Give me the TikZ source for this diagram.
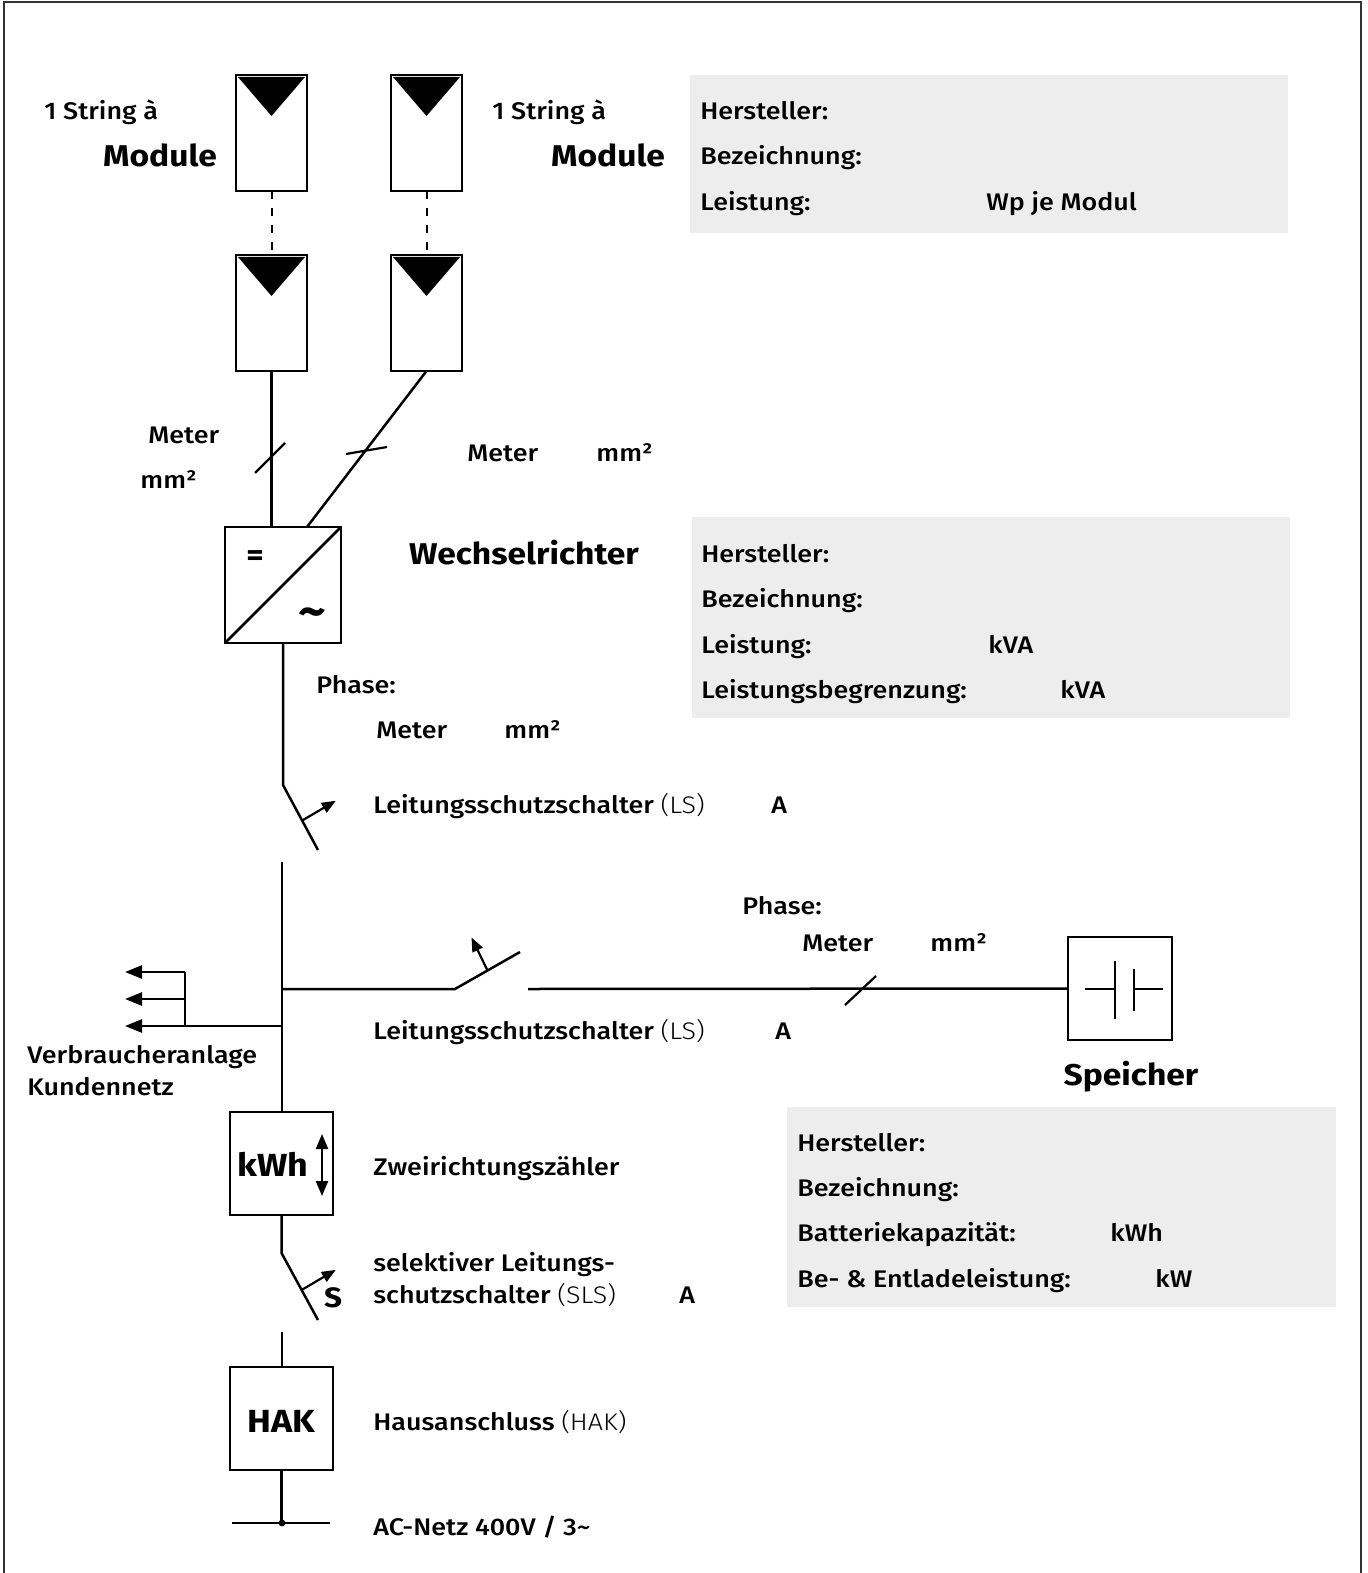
\documentclass[tikz,border=0pt]{standalone}
\usepackage{fontspec}
\IfFontExistsTF{Fira Sans Medium}{\setmainfont{Fira Sans Medium}[BoldFont={Fira Sans Bold}, FakeStretch=1.12]}{\setmainfont{Fira Sans}[FakeStretch=1.12]}
\IfFontExistsTF{Fira Sans Light}{\newfontfamily\lightfont{Fira Sans Light}[FakeStretch=1.12]}{\newfontfamily\lightfont{Fira Sans}[FakeStretch=1.12]}
\usetikzlibrary{arrows.meta,calc}
\tikzset{
  frame/.style={line width=1pt, black!80},
  wire/.style={line width=1.25pt},
  tickmark/.style={line width=1.1pt},
  dashline/.style={line width=1pt, dash pattern=on 4pt off 4.5pt},
  box/.style={draw, line width=1.4pt, inner sep=0pt, outer sep=0pt},
  panel/.style={box, minimum width=35.5pt, minimum height=58pt},
  info/.style={fill=black!7, draw=none, inner sep=0pt, outer sep=0pt, anchor=north west},
  lbl/.style={inner sep=0pt, anchor=base west, yshift=-0.75pt, font=\fontsize{12}{14}\selectfont},
  big/.style={inner sep=0pt, anchor=base, yshift=-0.75pt, font=\bfseries\fontsize{15}{18}\selectfont},
  swarrow/.style={line width=1.1pt, -{Triangle[length=7pt,width=5.5pt]}},
  consarrow/.style={wire, -{Triangle[length=8.5pt,width=6.5pt]}},
  dblarrow/.style={line width=1.1pt, {Triangle[length=7.5pt,width=6pt]}-{Triangle[length=7.5pt,width=6pt]}},
}
\begin{document}
\begin{tikzpicture}[x=0.5pt,y=-0.5pt]
\useasboundingbox (0,0) rectangle (1367,1573);
\draw[frame] (4,1573) -- (4,2) -- (1361,2) -- (1361,1573);

% info boxes
\node[info, minimum width=299pt, minimum height=79pt] (g1) at (690,75) {};
\node[info, minimum width=299pt, minimum height=100.5pt] (g2) at (692,517) {};
\node[info, minimum width=274.5pt, minimum height=100pt] (g3) at (787,1107) {};

% PV panels
\node[panel] (pa1) at (271.5,133) {};
\node[panel] (pa2) at (271.5,313) {};
\node[panel] (pb1) at (426.5,133) {};
\node[panel] (pb2) at (426.5,313) {};
\foreach \p in {pa1,pa2,pb1,pb2}{
  \fill ([shift={(2,2)}]\p.north west) -- ([shift={(-2,2)}]\p.north east) -- ([shift={(0,41)}]\p.north) -- cycle;
}
\draw[dashline] (pa1.south) -- (pa2.north);
\draw[dashline] (pb1.south) -- (pb2.north);

% inverter
\node[box, minimum size=58pt] (inv) at (283,585) {};
\draw[wire] (inv.south west) -- (inv.north east);
\node[inner sep=0pt, font=\bfseries\fontsize{15}{18}\selectfont] (eq) at (255,558) {=};
\node[inner sep=0pt, font=\bfseries\fontsize{24}{26}\selectfont] (ac) at (312,618) {\char`\~};

\draw[wire] (pa2.south) -- (pa2.south |- inv.north);
\draw[wire] (pb2.south) -- ([shift={(-34,0)}]inv.north east);
\draw[tickmark] (255,473) -- (285,443);
\draw[tickmark] (346,454) -- (387,447);

% LS 1
\coordinate (s1a) at (282,785);
\coordinate (s1b) at (318,850);
\draw[wire] (inv.south) -- (inv.south |- s1a) -- (s1b);
\draw[swarrow] ($(s1a)!0.55!(s1b)$) -- ++(34,-20);

% bus
\coordinate (bustop) at (282,862);
\node[box, minimum size=51.5pt] (kwh) at (281.5,1163.5) {};
\draw[wire] (bustop) -- (bustop |- kwh.north);
\coordinate (j1) at (282,989);
\coordinate (j2) at (282,1026);

% branch to storage
\coordinate (s2a) at (455,989);
\coordinate (s2b) at (520,952);
\coordinate (s2c) at (528,989);
\node[box, minimum width=52pt, minimum height=51.5pt] (sp) at (1120,988.5) {};
\draw[wire] (j1) -- (s2a) -- (s2b);
\draw[swarrow] ($(s2a)!0.5!(s2b)$) -- ++(-16,-33);
\draw[wire] (s2c) -- (sp.west);
\draw[tickmark] (845,1005) -- (876,976);
% capacitor
\draw[wire] (1085,989) -- (1115,989);
\draw[wire] (1115,961) -- (1115,1019);
\draw[wire] (1134,969) -- (1134,1011);
\draw[wire] (1134,989) -- (1163,989);

% consumer arrows
\coordinate (t1) at (125,972);
\coordinate (t2) at (125,999);
\coordinate (t3) at (125,1026);
\coordinate (cv1) at (185,972);
\coordinate (cv2) at (185,999);
\coordinate (cv3) at (185,1026);
\draw[wire] (cv1) -- (cv3);
\draw[consarrow] (j2) -- (t3);
\draw[consarrow] (cv1) -- (t1);
\draw[consarrow] (cv2) -- (t2);

% kWh meter
\node[inner sep=0pt, font=\bfseries\fontsize{16}{19}\selectfont] (kwht) at (273,1164) {kWh};
\draw[dblarrow] (322,1134) -- (322,1196);

% SLS
\coordinate (s3a) at (282,1253);
\coordinate (s3b) at (318,1320);
\draw[wire] (kwh.south) -- (kwh.south |- s3a) -- (s3b);
\draw[swarrow] ($(s3a)!0.55!(s3b)$) -- ++(34,-20);
\node[inner sep=0pt, font=\bfseries\fontsize{14}{17}\selectfont] (st) at (333,1298) {S};

% HAK
\coordinate (s3c) at (282,1332);
\node[box, minimum size=51.5pt] (hak) at (281.5,1418.5) {};
\node[inner sep=0pt, font=\bfseries\fontsize{16}{19}\selectfont] (hakt) at (281,1421) {HAK};
\draw[wire] (s3c) -- (s3c |- hak.north);
\coordinate (gnd) at (282,1523);
\coordinate (gl) at (232,1523);
\coordinate (gr) at (330,1523);
\draw[wire] (hak.south) -- (hak.south |- gnd);
\draw[wire] (gl) -- (gr);
\fill (gnd) circle (1.7pt);

% texts: modules
\node[lbl] (str1) at (44,118.5) {1 String à};
\node[big] (mod1) at (160,165.5) {Module};
\node[lbl] (str2) at (492,118.5) {1 String à};
\node[big] (mod2) at (608,165.5) {Module};
\node[lbl] (i1a) at (700,118) {Hersteller:};
\node[lbl] (i1b) at (700,163.5) {Bezeichnung:};
\node[lbl] (i1c) at (700,209) {Leistung:};
\node[lbl] (i1d) at (986,209) {Wp je Modul};

\node[lbl] (m1) at (148,441.5) {Meter};
\node[lbl] (m1b) at (140,486.5) {mm²};
\node[lbl] (m2) at (467,460) {Meter};
\node[lbl] (m2b) at (596,460) {mm²};

\node[big] (wr) at (524,563) {Wechselrichter};
\node[lbl] (i2a) at (701,560.5) {Hersteller:};
\node[lbl] (i2b) at (701,606) {Bezeichnung:};
\node[lbl] (i2c) at (701,651.5) {Leistung:};
\node[lbl] (i2d) at (988,651.5) {kVA};
\node[lbl] (i2e) at (701,697) {Leistungsbegrenzung:};
\node[lbl] (i2f) at (1060,697) {kVA};

\node[lbl] (ph1) at (316,692) {Phase:};
\node[lbl] (m3) at (376,737) {Meter};
\node[lbl] (m3b) at (504,737) {mm²};
\node[lbl] (ls1) at (373,812) {Leitungsschutzschalter {\lightfont (LS)}};
\node[lbl] (ls1a) at (771,812) {A};

\node[lbl] (ph2) at (742,912.5) {Phase:};
\node[lbl] (m4) at (802,949.5) {Meter};
\node[lbl] (m4b) at (930,949.5) {mm²};
\node[lbl] (ls2) at (373,1037.5) {Leitungsschutzschalter {\lightfont (LS)}};
\node[lbl] (ls2a) at (775,1037.5) {A};
\node[big] (spt) at (1131,1083.5) {Speicher};

\node[lbl] (vb1) at (27,1061.5) {Verbraucheranlage};
\node[lbl] (vb2) at (27,1093.5) {Kundennetz};

\node[lbl] (i3a) at (797,1149.5) {Hersteller:};
\node[lbl] (i3b) at (797,1194.5) {Bezeichnung:};
\node[lbl] (i3c) at (797,1239.5) {Batteriekapazität:};
\node[lbl] (i3d) at (1110,1239.5) {kWh};
\node[lbl] (i3e) at (797,1285.5) {Be- \& Entladeleistung:};
\node[lbl] (i3f) at (1155,1285.5) {kW};

\node[lbl] (zz) at (373,1173.5) {Zweirichtungszähler};
\node[lbl] (sl1) at (373,1269.5) {selektiver Leitungs-};
\node[lbl] (sl2) at (373,1301.5) {schutzschalter {\lightfont (SLS)}};
\node[lbl] (sla) at (679,1301.5) {A};
\node[lbl] (hk) at (373,1428.5) {Hausanschluss {\lightfont (HAK)}};
\node[lbl] (acn) at (373,1533.5) {AC-Netz 400V / 3\char`\~};
\end{tikzpicture}
\end{document}
